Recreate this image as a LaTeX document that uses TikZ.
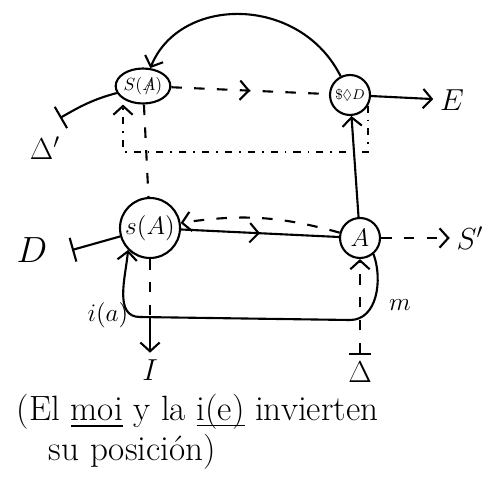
\documentclass[tikz,border=0pt]{standalone}
\usepackage{fontspec}
\usepackage{amssymb}
\usetikzlibrary{arrows.meta,decorations.markings,shapes.geometric}

\newcommand{\barredA}{\mathord{\ooalign{$A$\cr\hidewidth$/$\hidewidth\cr}}}

\tikzset{
  lbl/.style={font=\LARGE},
  circnode/.style={draw,circle,inner sep=0pt},
  dsh/.style={dash pattern=on 6pt off 7pt},
  dts/.style={dash pattern=on 4pt off 4pt on 1pt off 4pt},
  midarrow/.style={postaction={decorate},
    decoration={markings,mark=at position 0.5 with {\arrow{>}}}},
  barend/.style={-{Bar[width=14pt]}},
}

\begin{document}
\begin{tikzpicture}[x=0.02cm,y=-0.02cm,line width=1.2pt,
    >={Straight Barb[length=5pt,width=11pt]}]
  \useasboundingbox (0,0) rectangle (490,490);
  \node[draw,ellipse,minimum width=0.96cm,minimum height=0.7cm,inner sep=0pt] (SA) at (143,86) {$S(\barredA)$};
  \node[circnode,minimum size=0.8cm,font=\footnotesize] (sD) at (350,95) {$\$\lozenge D$};
  \node[circnode,minimum size=1.2cm,font=\Large] (sA) at (150,228) {$s(A)$};
  \node[circnode,minimum size=0.8cm,font=\Large] (A) at (360,238) {$A$};
  \node[lbl] (E) at (452,100) {$E$};
  \node[lbl] (Dl) at (45,148) {$\Delta'$};
  \node[lbl] (Sp) at (470,238) {$S'$};
  \node[font=\huge] (D) at (32,250) {$D$};
  \node[lbl] (I) at (150,370) {$I$};
  \node[lbl] (Dt) at (360,372) {$\Delta$};
  \node[font=\Large] (ia) at (108,315) {$i(a)$};
  \node[font=\Large] (m) at (400,305) {$m$};
  \coordinate (dlbar) at (60,118);
  \coordinate (dbar) at (72,250);
  \coordinate (lp) at (123,152);
  \coordinate (bm) at (350,320);
  \coordinate (bl) at (140,317);

  \draw[->] (sD) .. controls (300,-5) and (180,-5) .. (SA);
  \draw[dsh,midarrow] (SA) -- (sD);
  \draw[barend] (SA) to[out=195,in=30] (dlbar);
  \draw[->] (sD) -- (E);
  \draw[->] (A) -- (sD);
  \draw[midarrow] (sA) -- (A);
  \draw[dsh,->] (A) to[bend right=12] (sA);
  \draw[dsh,->] (A) -- (Sp);
  \draw[barend] (sA) -- (dbar);
  \draw[dsh] (SA) -- (sA);
  \draw[dts,->] (sD.-30) |- (lp) -- (lp |- SA.south);
  \draw[->] (A.-50) to[out=-70,in=0] (bm) -- (bl) to[out=180,in=-95] (sA.225);
  \draw[dsh] (sA) -- (sA |- bl);
  \draw[->] (sA |- bl) -- (I);
  \draw[dsh,{Bar[width=12pt]}->] (Dt) -- (A);

  \node[anchor=west,font=\fontsize{20}{24}\selectfont] (note1) at (10,412) {(El \underline{moi} y la \underline{\smash{i(e)}} invierten};
  \node[anchor=west,font=\fontsize{20}{24}\selectfont] (note2) at (42,452) {su posición)};
\end{tikzpicture}
\end{document}
